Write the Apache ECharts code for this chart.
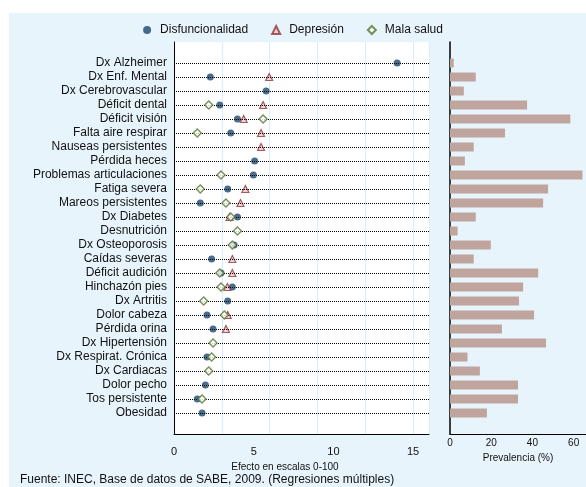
<!DOCTYPE html>
<html>
<head>
<meta charset="utf-8">
<script src="https://cdn.jsdelivr.net/npm/echarts@6/dist/echarts.min.js"></script>
<style>html,body{margin:0;padding:0;background:#fff;}#c{width:586px;height:487px;}</style>
</head>
<body>
<div id="c"></div>
<script>
var categories = ['Dx Alzheimer','Dx Enf. Mental','Dx Cerebrovascular','Déficit dental','Déficit visión','Falta aire respirar','Nauseas persistentes','Pérdida heces','Problemas articulaciones','Fatiga severa','Mareos persistentes','Dx Diabetes','Desnutrición','Dx Osteoporosis','Caídas severas','Déficit audición','Hinchazón pies','Dx Artritis','Dolor cabeza','Pérdida orina','Dx Hipertensión','Dx Respirat. Crónica','Dx Cardiacas','Dolor pecho','Tos persistente','Obesidad'];
var disfuncionalidad = [14.0, 2.28, 5.78, 2.87, 3.98, 3.56, null, 5.06, 4.98, 3.37, 1.65, 3.98, null, 3.77, 2.36, 2.95, 3.66, 3.37, 2.07, 2.45, null, 2.07, null, 1.97, 1.46, 1.76];
var depresion = [null, 5.97, null, 5.59, 4.37, 5.46, 5.46, null, null, 4.48, 4.17, 3.49, null, null, 3.66, 3.66, 3.35, null, 3.37, 3.26, null, null, null, null, null, null];
var malaSalud = [null, null, null, 2.18, 5.59, 1.46, null, null, 2.95, 1.65, 3.26, 3.56, 3.98, 3.66, null, 2.87, 2.95, 1.86, 3.16, null, 2.45, 2.36, 2.18, null, 1.76, null];
var prevalencia = [1.8, 12.5, 6.7, 37.4, 58.4, 26.7, 11.5, 7.2, 64.3, 47.6, 45.2, 12.5, 3.7, 19.8, 11.5, 42.8, 35.5, 33.5, 40.8, 25.2, 46.6, 8.5, 14.5, 33.0, 33.0, 17.9];
var effectTicks = [0, 5, 10, 15];
var prevTicks = [0, 20, 40, 60];

var FONT = '"Liberation Sans", Arial, Helvetica, sans-serif';
var BG = '#e8f4fb';
var yData = [''].concat(categories).concat([' ']);

function pts(arr) {
  var out = [];
  arr.forEach(function (v, i) { if (v !== null) out.push([v, i + 1]); });
  return out;
}

var chart = echarts.init(document.getElementById('c'), null, {renderer: 'canvas'});
chart.setOption({
  backgroundColor: '#fff',
  animation: false,
  textStyle: {fontFamily: FONT},
  graphic: [
    {type: 'rect', z: -10, shape: {x: 9, y: 13, width: 577, height: 474}, style: {fill: BG}, silent: true},
    {type: 'text', left: 20, top: 474, style: {text: 'Fuente: INEC, Base de datos de SABE, 2009. (Regresiones múltiples)', font: '12px ' + FONT, fill: '#111'}}
  ],
  legend: {
    top: 19, left: 'center',
    itemWidth: 8, itemHeight: 8, itemGap: 23,
    textStyle: {fontSize: 12, color: '#111', fontFamily: FONT, padding: [0, 0, 0, 4]},
    data: ['Disfuncionalidad', 'Depresión', 'Mala salud']
  },
  grid: [
    {left: 174, top: 42, width: 255, height: 392, show: true, backgroundColor: '#fff', borderWidth: 0},
    {left: 450, top: 42, width: 136, height: 392, show: false}
  ],
  xAxis: [
    {type: 'value', gridIndex: 0, min: 0, max: 16,
     axisLine: {show: true, onZero: false, lineStyle: {color: '#000', width: 1}},
     axisTick: {show: false},
     axisLabel: {customValues: effectTicks, fontSize: 11, color: '#111', margin: 12, fontFamily: FONT},
     splitLine: {show: true, lineStyle: {color: '#dcedf8', width: 1.2}},
     name: 'Efecto en escalas 0-100', nameLocation: 'middle', nameGap: 25,
     nameTextStyle: {fontSize: 10, color: '#111', padding: [0, 33, 0, 0], fontFamily: FONT}},
    {type: 'value', gridIndex: 1, min: 0, max: 66,
     axisLine: {show: true, onZero: false, lineStyle: {color: '#000', width: 1}},
     axisTick: {show: false},
     axisLabel: {customValues: prevTicks, fontSize: 10, color: '#111', margin: 4, fontFamily: FONT},
     splitLine: {show: false},
     name: 'Prevalencia (%)', nameLocation: 'middle', nameGap: 18,
     nameTextStyle: {fontSize: 10, color: '#111', fontFamily: FONT}}
  ],
  yAxis: [
    {type: 'category', gridIndex: 0, data: yData, inverse: true,
     axisLine: {show: true, lineStyle: {color: '#000', width: 1}},
     axisTick: {show: false},
     axisLabel: {fontSize: 12, color: '#111', margin: 7, interval: 0, fontFamily: FONT},
     splitLine: {show: false}},
    {type: 'category', gridIndex: 1, data: yData, inverse: true,
     axisLine: {show: true, lineStyle: {color: '#000', width: 1.5}},
     axisTick: {show: false},
     axisLabel: {show: false},
     splitLine: {show: false}}
  ],
  series: [
    {type: 'scatter', xAxisIndex: 0, yAxisIndex: 0, data: [], z: 1, silent: true,
     markLine: {symbol: ['none', 'none'], silent: true, animation: false,
       label: {show: false},
       lineStyle: {type: 'dotted', color: '#000', width: 1},
       data: categories.map(function (c, i) { return {yAxis: i + 1}; })}},
    {name: 'Disfuncionalidad', type: 'scatter', xAxisIndex: 0, yAxisIndex: 0, z: 3,
     symbol: 'circle', symbolSize: 7,
     itemStyle: {color: '#1a476f'},
     data: pts(disfuncionalidad)},
    {name: 'Depresión', type: 'scatter', xAxisIndex: 0, yAxisIndex: 0, z: 4,
     symbol: 'triangle', symbolSize: 7,
     itemStyle: {color: '#ebc9cb', borderColor: '#90353b', borderWidth: 1.2},
     data: pts(depresion)},
    {name: 'Mala salud', type: 'scatter', xAxisIndex: 0, yAxisIndex: 0, z: 5,
     symbol: 'diamond', symbolSize: 8,
     itemStyle: {color: '#ffffff', borderColor: '#55752f', borderWidth: 1.4},
     data: pts(malaSalud)},
    {type: 'bar', xAxisIndex: 1, yAxisIndex: 1, barWidth: 9,
     itemStyle: {color: '#c0a59e'},
     data: [null].concat(prevalencia).concat([null])}
  ]
});
</script>
</body>
</html>
